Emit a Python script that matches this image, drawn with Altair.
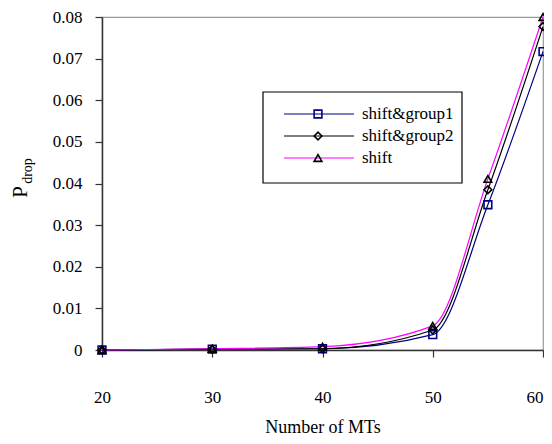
import altair as alt
import pandas as pd

# ---- data ----
mts = [20, 30, 40, 50, 55, 60]
series_names = ["shift&group1", "shift&group2", "shift"]
group1 = [0.0, 0.0002, 0.0003, 0.0037, 0.0349, 0.0717]
group2 = [0.0, 0.0002, 0.0003, 0.0048, 0.0385, 0.0777]
shift = [0.0, 0.0003, 0.0008, 0.0058, 0.0411, 0.0800]
x_ticks = [20, 30, 40, 50, 60]
y_ticks = [0, 0.01, 0.02, 0.03, 0.04, 0.05, 0.06, 0.07, 0.08]

line_colors = ["#000080", "#000000", "#FF00FF"]
marker_colors = ["#000080", "#000000", "#000000"]
marker_shapes = ["square", "diamond", "triangle-up"]

rows = []
for name, vals in zip(series_names, [group1, group2, shift]):
    for x, v in zip(mts, vals):
        rows.append({"mts": x, "p": v, "series": name})
df = pd.DataFrame(rows)

FONT = "Liberation Serif, Times New Roman, serif"
W, H = 441, 333

xenc = alt.X("mts:Q", scale=alt.Scale(domain=[20, 60], nice=False, zero=False),
             axis=alt.Axis(values=x_ticks, title="Number of MTs", grid=False,
                           tickSize=7, labelPadding=32, titlePadding=13,
                           labelFlush=False, labelFontSize=17, titleFontSize=18,
                           labelAlign=alt.condition("datum.value == 60", alt.value("right"), alt.value("center")),
                           labelFont=FONT, titleFont=FONT, titleFontWeight="normal",
                           labelColor="black", titleColor="black",
                           domainColor="#333333", domainWidth=1.5,
                           tickColor="#333333", tickWidth=1.2))
yenc = alt.Y("p:Q", scale=alt.Scale(domain=[0, 0.08], nice=False),
             axis=alt.Axis(values=y_ticks, title=None, grid=False,
                           tickSize=7, labelPadding=13, labelFontSize=17,
                           labelFlush=False, labelFont=FONT, labelColor="black",
                           labelExpr="datum.value == 0 ? '0' : format(datum.value, '.2f')",
                           domainColor="#333333", domainWidth=1.5,
                           tickColor="#333333", tickWidth=1.2))

base = alt.Chart(df)
lines = base.mark_line(interpolate="monotone", strokeWidth=1.2).encode(
    x=xenc, y=yenc,
    color=alt.Color("series:N", scale=alt.Scale(domain=series_names, range=line_colors), legend=None),
)
points = base.mark_point(filled=False, size=60, strokeWidth=1.6, opacity=1).encode(
    x=xenc, y=yenc,
    shape=alt.Shape("series:N", scale=alt.Scale(domain=series_names, range=marker_shapes), legend=None),
    stroke=alt.Stroke("series:N", scale=alt.Scale(domain=series_names, range=marker_colors), legend=None),
)

one = pd.DataFrame({"a": [0]})
layers = [lines, points]

# y-axis title P_drop
layers.append(alt.Chart(one).mark_text(text="P", angle=270, font=FONT, fontSize=21,
                                       color="black", baseline="middle", align="center").encode(
    x=alt.value(-81), y=alt.value(175)))
layers.append(alt.Chart(one).mark_text(text="drop", angle=270, font=FONT, fontSize=14,
                                       color="black", baseline="middle", align="center").encode(
    x=alt.value(-74), y=alt.value(154)))

# legend box
layers.append(alt.Chart(one).mark_rect(fill="white", stroke="black", strokeWidth=1.2).encode(
    x=alt.value(161), x2=alt.value(360), y=alt.value(75), y2=alt.value(166)))
row_y = [97, 119, 141]
for name, lc, mc, sh, yy in zip(series_names, line_colors, marker_colors, marker_shapes, row_y):
    layers.append(alt.Chart(one).mark_rule(color=lc, strokeWidth=1.2).encode(
        x=alt.value(182), x2=alt.value(252), y=alt.value(yy)))
    layers.append(alt.Chart(one).mark_point(shape=sh, filled=False, size=60, strokeWidth=1.6,
                                            color=mc, opacity=1).encode(
        x=alt.value(216), y=alt.value(yy)))
    layers.append(alt.Chart(one).mark_text(text=name, font=FONT, fontSize=17, color="black",
                                           align="left", baseline="middle").encode(
        x=alt.value(260), y=alt.value(yy)))

chart = alt.layer(*layers).properties(
    width=W, height=H,
    autosize=alt.AutoSizeParams(type="none"),
    padding={"left": 94, "top": 9, "right": 1, "bottom": 86},
    background="white",
).configure_view(stroke="#999999", strokeWidth=1.2)

chart.save("out.html", embed_options={"renderer": "svg", "actions": False})
